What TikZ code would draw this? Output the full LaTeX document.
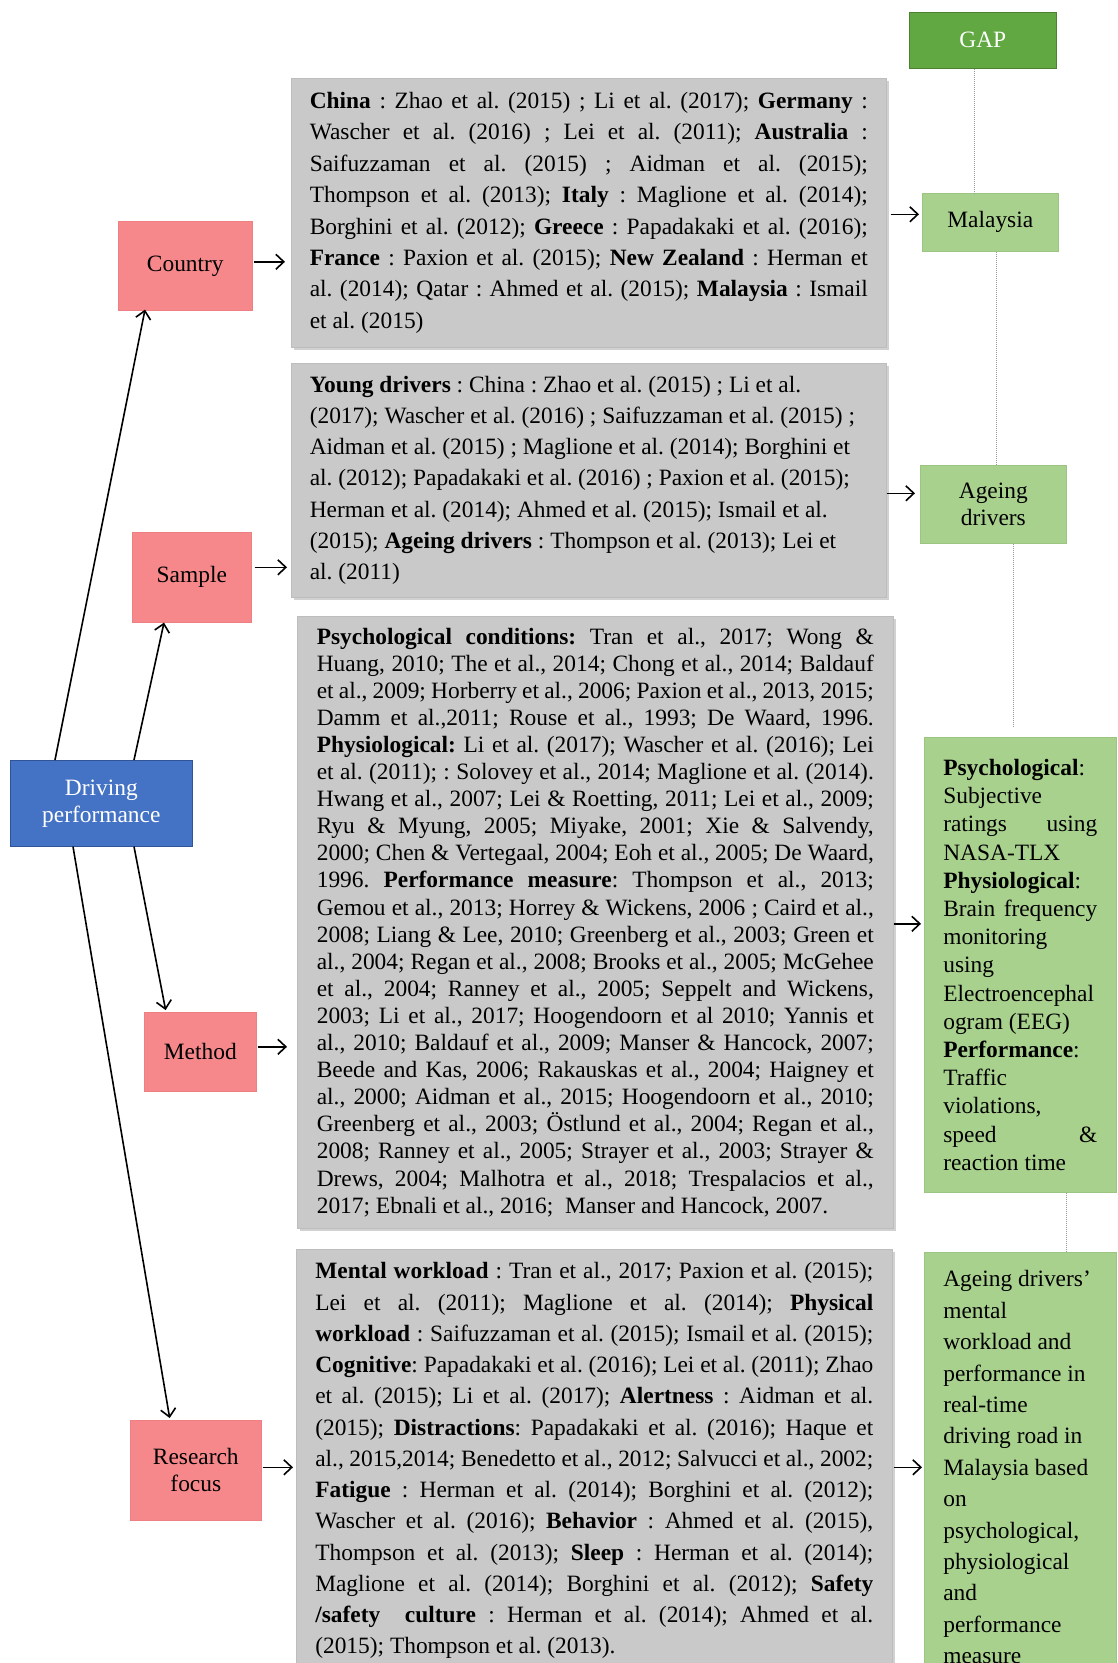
\documentclass[tikz,border=0pt]{standalone}
\usepackage{fontspec}
\usepackage{graphicx}
\setmainfont{Liberation Serif}
\usetikzlibrary{arrows.meta,shadows,calc}
\definecolor{pinkfill}{HTML}{F6888B}
\definecolor{pinkedge}{HTML}{EE8083}
\definecolor{bluefill}{HTML}{4472C4}
\definecolor{blueedge}{HTML}{2F5597}
\definecolor{gapfill}{HTML}{62A842}
\definecolor{gapedge}{HTML}{4C8032}
\definecolor{lgfill}{HTML}{A9D18E}
\definecolor{lgedge}{HTML}{9BC580}
\definecolor{grayfill}{HTML}{C9C9C9}
\definecolor{grayedge}{HTML}{BDBDBD}
\definecolor{dotcol}{HTML}{9C9C9C}
\newcommand\JLsetup{\frenchspacing\spaceskip=.25em plus .8em minus .16em\xspaceskip=\spaceskip}
\newcommand\JLtight{\frenchspacing\spaceskip=.16em\xspaceskip=\spaceskip}
\newcommand\JL[1]{\noindent\setbox0=\hbox to \hsize{\JLsetup #1}%
  \ifnum\badness>10000 \setbox2=\hbox{\JLtight #1}\resizebox{\hsize}{\height}{\box2}\else\box0\fi\par}
\newcommand\LL[1]{\noindent\hbox to \hsize{\frenchspacing\spaceskip=0pt\xspaceskip=0pt #1\hss}\par}
\begin{document}
\begin{tikzpicture}[x=1pt,y=-1pt,
  base/.style={anchor=north west, line width=0.6pt, inner sep=0pt, align=center,
    font={\fontsize{23.4}{27}\selectfont}},
  pinkbox/.style={base, draw=pinkedge, fill=pinkfill},
  bluebox/.style={base, draw=blueedge, fill=bluefill, text=white},
  gapbox/.style={base, draw=gapedge, fill=gapfill, text=white},
  lgbox/.style={base, draw=lgedge, fill=lgfill},
  graybox/.style={anchor=north west, draw=grayedge, fill=grayfill, line width=0.6pt,
    inner ysep=0pt, drop shadow={shadow xshift=3pt, shadow yshift=-3pt, fill=black, opacity=0.18}},
  textbox/.style={anchor=north west, draw=lgedge, fill=lgfill, line width=0.6pt,
    inner ysep=0pt, inner xsep=19pt, text width=154pt},
  arr/.style={-{Straight Barb[length=8pt,width=15pt]}, line width=1.6pt, black},
  dotline/.style={draw=dotcol, line width=0.9pt, dash pattern=on 1pt off 1pt}]
\useasboundingbox (0,0) rectangle (1117,1663);
\fill[white] (0,0) rectangle (1117,1663);
\begin{scope}
\clip (0,0) rectangle (1117,1663);

% left column
\node[bluebox, minimum width=182pt, minimum height=86pt] (dp) at (10,760) {Driving\\performance};
\node[pinkbox, minimum width=134pt, minimum height=89pt] (country) at (118,221) {Country};
\node[pinkbox, minimum width=119pt, minimum height=90pt] (sample) at (132,532) {Sample};
\node[pinkbox, minimum width=112pt, minimum height=79pt] (method) at (144,1012) {Method};
\node[pinkbox, minimum width=131pt, minimum height=100pt] (rf) at (130,1420) {Research\\focus};

% gray boxes
\node[graybox, inner xsep=18.5pt, text width=558pt, minimum height=269pt,
  font={\fontsize{23.4}{31.4}\selectfont}] (gr1) at (291,78) {%
\JL{\textbf{China} : Zhao et al. (2015) ; Li et al. (2017); \textbf{Germany} :}
\JL{Wascher et al. (2016) ; Lei et al. (2011); \textbf{Australia} :}
\JL{Saifuzzaman et al. (2015) ; Aidman et al. (2015);}
\JL{Thompson et al. (2013); \textbf{Italy} : Maglione et al. (2014);}
\JL{Borghini et al. (2012); \textbf{Greece} : Papadakaki et al. (2016);}
\JL{\textbf{France} : Paxion et al. (2015); \textbf{New Zealand} : Herman et}
\JL{al. (2014); Qatar : Ahmed et al. (2015); \textbf{Malaysia} : Ismail}
\LL{et al. (2015)}};

\node[graybox, inner xsep=18.5pt, text width=558pt, minimum height=234pt,
  font={\fontsize{23.4}{31.2}\selectfont}] (gr2) at (291,363) {%
\LL{\textbf{Young drivers} : China : Zhao et al. (2015) ; Li et al.}
\LL{(2017); Wascher et al. (2016) ; Saifuzzaman et al. (2015) ;}
\LL{Aidman et al. (2015) ; Maglione et al. (2014); Borghini et}
\LL{al. (2012); Papadakaki et al. (2016) ; Paxion et al. (2015);}
\LL{Herman et al. (2014); Ahmed et al. (2015); Ismail et al.}
\LL{(2015); \textbf{Ageing drivers} : Thompson et al. (2013); Lei et}
\LL{al. (2011)}};

\node[graybox, inner xsep=19.5pt, text width=557pt, minimum height=612pt,
  font={\fontsize{23.4}{27.1}\selectfont}] (gr3) at (297,616) {%
\JL{\textbf{Psychological conditions:} Tran et al., 2017; Wong \&}
\JL{Huang, 2010; The et al., 2014; Chong et al., 2014; Baldauf}
\JL{et al., 2009; Horberry et al., 2006; Paxion et al., 2013, 2015;}
\JL{Damm et al.,2011; Rouse et al., 1993; De Waard, 1996.}
\JL{\textbf{Physiological:} Li et al. (2017); Wascher et al. (2016); Lei}
\JL{et al. (2011); : Solovey et al., 2014; Maglione et al. (2014).}
\JL{Hwang et al., 2007; Lei \& Roetting, 2011; Lei et al., 2009;}
\JL{Ryu \& Myung, 2005; Miyake, 2001; Xie \& Salvendy,}
\JL{2000; Chen \& Vertegaal, 2004; Eoh et al., 2005; De Waard,}
\JL{1996. \textbf{Performance measure}: Thompson et al., 2013;}
\JL{Gemou et al., 2013; Horrey \& Wickens, 2006 ; Caird et al.,}
\JL{2008; Liang \& Lee, 2010; Greenberg et al., 2003; Green et}
\JL{al., 2004; Regan et al., 2008; Brooks et al., 2005; McGehee}
\JL{et al., 2004; Ranney et al., 2005; Seppelt and Wickens,}
\JL{2003; Li et al., 2017; Hoogendoorn et al 2010; Yannis et}
\JL{al., 2010; Baldauf et al., 2009; Manser \& Hancock, 2007;}
\JL{Beede and Kas, 2006; Rakauskas et al., 2004; Haigney et}
\JL{al., 2000; Aidman et al., 2015; Hoogendoorn et al., 2010;}
\JL{Greenberg et al., 2003; Östlund et al., 2004; Regan et al.,}
\JL{2008; Ranney et al., 2005; Strayer et al., 2003; Strayer \&}
\JL{Drews, 2004; Malhotra et al., 2018; Trespalacios et al.,}
\LL{2017; Ebnali et al., 2016;\ \ Manser and Hancock, 2007.}};

\node[graybox, inner xsep=19pt, text width=558pt, minimum height=423pt,
  font={\fontsize{23.4}{31.25}\selectfont}] (gr4) at (296,1249) {%
\JL{\textbf{Mental workload} : Tran et al., 2017; Paxion et al. (2015);}
\JL{Lei et al. (2011); Maglione et al. (2014); \textbf{Physical}}
\JL{\textbf{workload} : Saifuzzaman et al. (2015); Ismail et al. (2015);}
\JL{\textbf{Cognitive}: Papadakaki et al. (2016); Lei et al. (2011); Zhao}
\JL{et al. (2015); Li et al. (2017); \textbf{Alertness} : Aidman et al.}
\JL{(2015); \textbf{Distractions}: Papadakaki et al. (2016); Haque et}
\JL{al., 2015,2014; Benedetto et al., 2012; Salvucci et al., 2002;}
\JL{\textbf{Fatigue} : Herman et al. (2014); Borghini et al. (2012);}
\JL{Wascher et al. (2016); \textbf{Behavior} : Ahmed et al. (2015),}
\JL{Thompson et al. (2013); \textbf{Sleep} : Herman et al. (2014);}
\JL{Maglione et al. (2014); Borghini et al. (2012); \textbf{Safety}}
\JL{\textbf{/safety\ \ culture} : Herman et al. (2014); Ahmed et al.}
\LL{(2015); Thompson et al. (2013).}};

% right column
\node[gapbox, minimum width=147pt, minimum height=56pt] (gap) at (909,12) {GAP};
\node[lgbox, minimum width=136pt, minimum height=58pt] (mal) at (922,193) {Malaysia};
\node[lgbox, minimum width=146pt, minimum height=78pt] (age) at (920,465) {Ageing\\drivers};
\node[textbox, minimum height=455pt, font={\fontsize{23.4}{28.2}\selectfont}] (g3) at (924,737) {%
\LL{\textbf{Psychological}:}
\LL{Subjective}
\JL{ratings using}
\LL{NASA-TLX}
\LL{\textbf{Physiological}:}
\JL{Brain frequency}
\LL{monitoring}
\LL{using}
\LL{Electroencephal}
\LL{ogram (EEG)}
\LL{\textbf{Performance}:}
\LL{Traffic}
\LL{violations,}
\JL{speed \&}
\LL{reaction time}};
\node[textbox, minimum height=430pt, font={\fontsize{23.4}{31.4}\selectfont}] (g4) at (924,1252) {%
\LL{Ageing drivers’}
\LL{mental}
\LL{workload and}
\LL{performance in}
\LL{real-time}
\LL{driving road in}
\LL{Malaysia based}
\LL{on}
\LL{psychological,}
\LL{physiological}
\LL{and}
\LL{performance}
\LL{measure}};

% diagonal connectors
\draw[arr] ([xshift=45pt]dp.north west) -- ([xshift=27pt,yshift=1pt]country.south west);
\draw[arr] ([xshift=124pt]dp.north west) -- ([xshift=32pt]sample.south west);
\draw[arr, shorten >=2pt] ([xshift=124pt]dp.south west) -- ([xshift=22pt]method.north west);
\draw[arr, shorten >=2pt] ([xshift=63pt]dp.south west) -- ([xshift=40pt]rf.north west);

% horizontal connectors left
\path ([yshift=4pt]country.east) coordinate (c1);
\draw[arr, shorten <=1pt, shorten >=6pt] (c1) -- (c1 -| gr1.west);
\path ([yshift=10pt]sample.east) coordinate (c2);
\draw[arr, shorten <=3pt, shorten >=4pt] (c2) -- (c2 -| gr2.west);
\path ([yshift=5pt]method.east) coordinate (c3);
\draw[arr, shorten <=1pt, shorten >=10pt] (c3) -- (c3 -| gr3.west);
\path ([yshift=3pt]rf.east) coordinate (c4);
\draw[arr, shorten <=1pt, shorten >=3pt] (c4) -- (c4 -| gr4.west);

% horizontal connectors right
\path ([yshift=8pt]mal.west) coordinate (r1);
\draw[arr, shorten <=4pt, shorten >=3pt] (r1 -| gr1.east) -- (r1);
\path ([yshift=11pt]age.west) coordinate (r2);
\draw[arr, shorten >=5pt] (r2 -| gr2.east) -- (r2);
\path ([yshift=41pt]g3.west) coordinate (r3);
\draw[arr, shorten >=3pt] (r3 -| gr3.east) -- (r3);
\path (g4.west) coordinate (r4);
\draw[arr, shorten <=1pt, shorten >=2pt] (r4 -| gr4.east) -- (r4);

% dotted gap line
\path ([xshift=-8pt]gap.south) coordinate (d1);
\draw[dotline] (d1) -- (d1 |- mal.north);
\path ([xshift=6pt]mal.south) coordinate (d2);
\draw[dotline] (d2) -- (d2 |- age.north);
\path ([xshift=20pt]age.south) coordinate (d3);
\draw[dotline, shorten >=10pt] (d3) -- (d3 |- g3.north);
\path ([xshift=46pt]g3.south) coordinate (d4);
\draw[dotline] (d4) -- (d4 |- g4.north);
\end{scope}
\end{tikzpicture}
\end{document}
